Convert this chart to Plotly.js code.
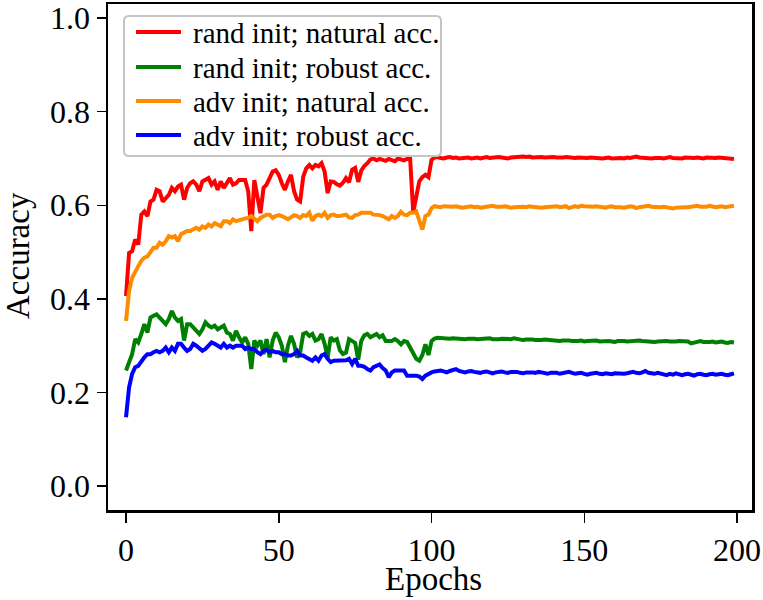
<!DOCTYPE html>
<html>
<head>
<meta charset="utf-8">
<script src="https://cdn.plot.ly/plotly-3.0.1.min.js"></script>
<style>
  html, body { margin: 0; padding: 0; background: #fff; }
  #chart { width: 763px; height: 600px; }
</style>
</head>
<body>
<div id="chart"></div>
<script>
// accuracy per epoch
var randNatural = [
  0.406,0.498,0.502,0.527,0.516,0.580,0.587,0.577,0.608,0.612,
  0.633,0.630,0.608,0.616,0.622,0.637,0.630,0.640,0.644,0.612,
  0.637,0.647,0.651,0.644,0.630,0.651,0.654,0.658,0.644,0.651,
  0.633,0.651,0.637,0.647,0.658,0.644,0.647,0.654,0.654,0.654,
  0.630,0.545,0.654,0.622,0.583,0.637,0.644,0.658,0.672,0.675,
  0.665,0.647,0.633,0.651,0.665,0.630,0.612,0.608,0.661,0.679,
  0.686,0.679,0.686,0.683,0.690,0.672,0.626,0.651,0.650,0.645,
  0.642,0.648,0.658,0.649,0.676,0.680,0.650,0.674,0.684,0.690,
  0.698,0.700,0.696,0.699,0.697,0.695,0.699,0.697,0.694,0.700,
  0.698,0.696,0.699,0.700,0.585,0.622,0.651,0.660,0.665,0.660,
  0.697,0.702,0.703,0.701,0.700,0.702,0.703,0.701,0.702,0.700,
  0.701,0.703,0.702,0.700,0.701,0.702,0.700,0.702,0.703,0.701,
  0.702,0.701,0.703,0.702,0.701,0.700,0.702,0.703,0.704,0.705,
  0.704,0.703,0.704,0.702,0.703,0.704,0.703,0.702,0.703,0.704,
  0.703,0.702,0.701,0.702,0.703,0.702,0.700,0.701,0.702,0.701,
  0.700,0.701,0.702,0.701,0.702,0.701,0.700,0.701,0.702,0.700,
  0.701,0.702,0.701,0.700,0.702,0.701,0.703,0.704,0.702,0.701,
  0.702,0.701,0.700,0.701,0.702,0.701,0.700,0.702,0.703,0.701,
  0.700,0.699,0.700,0.702,0.701,0.700,0.701,0.702,0.701,0.700,
  0.702,0.701,0.700,0.701,0.702,0.701,0.700,0.701,0.700,0.699
];

var randRobust = [
  0.247,0.265,0.282,0.314,0.307,0.325,0.346,0.328,0.360,0.364,
  0.367,0.360,0.353,0.346,0.357,0.374,0.360,0.353,0.357,0.311,
  0.346,0.346,0.339,0.332,0.325,0.335,0.350,0.343,0.339,0.343,
  0.335,0.339,0.343,0.328,0.325,0.311,0.332,0.318,0.307,0.318,
  0.304,0.250,0.311,0.300,0.311,0.282,0.314,0.275,0.311,0.328,
  0.318,0.300,0.265,0.300,0.321,0.304,0.275,0.286,0.325,0.328,
  0.321,0.325,0.311,0.314,0.325,0.304,0.275,0.318,0.311,0.314,
  0.290,0.282,0.285,0.314,0.310,0.306,0.270,0.310,0.322,0.325,
  0.318,0.322,0.325,0.318,0.322,0.310,0.309,0.310,0.314,0.310,
  0.303,0.310,0.308,0.297,0.285,0.272,0.268,0.280,0.303,0.280,
  0.310,0.315,0.317,0.316,0.317,0.316,0.315,0.316,0.315,0.316,
  0.315,0.314,0.315,0.316,0.315,0.314,0.315,0.314,0.315,0.316,
  0.314,0.313,0.314,0.315,0.314,0.313,0.314,0.316,0.314,0.313,
  0.312,0.313,0.314,0.313,0.312,0.311,0.312,0.313,0.312,0.311,
  0.312,0.311,0.310,0.311,0.312,0.311,0.310,0.309,0.310,0.311,
  0.309,0.310,0.311,0.310,0.311,0.309,0.310,0.311,0.310,0.309,
  0.308,0.310,0.311,0.310,0.309,0.310,0.309,0.310,0.311,0.310,
  0.309,0.310,0.309,0.308,0.309,0.310,0.309,0.310,0.309,0.308,
  0.309,0.310,0.309,0.308,0.309,0.305,0.307,0.309,0.310,0.308,
  0.307,0.308,0.309,0.307,0.308,0.309,0.307,0.306,0.308,0.307
];

var advNatural = [
  0.353,0.417,0.445,0.460,0.470,0.481,0.488,0.491,0.502,0.509,
  0.509,0.520,0.516,0.523,0.534,0.531,0.534,0.523,0.538,0.541,
  0.545,0.545,0.548,0.552,0.548,0.555,0.552,0.559,0.555,0.562,
  0.559,0.555,0.566,0.566,0.562,0.570,0.566,0.567,0.570,0.572,
  0.573,0.577,0.570,0.566,0.573,0.577,0.580,0.580,0.573,0.577,
  0.579,0.577,0.573,0.570,0.574,0.579,0.577,0.573,0.579,0.577,
  0.584,0.567,0.577,0.580,0.577,0.584,0.573,0.579,0.580,0.577,
  0.577,0.579,0.580,0.574,0.573,0.579,0.580,0.584,0.584,0.582,
  0.584,0.580,0.580,0.579,0.577,0.574,0.570,0.577,0.573,0.577,
  0.586,0.580,0.579,0.584,0.584,0.587,0.570,0.548,0.577,0.580,
  0.594,0.598,0.597,0.596,0.598,0.597,0.596,0.597,0.598,0.596,
  0.595,0.596,0.597,0.598,0.596,0.597,0.595,0.596,0.597,0.598,
  0.599,0.597,0.596,0.597,0.598,0.596,0.595,0.596,0.597,0.598,
  0.597,0.596,0.598,0.597,0.596,0.597,0.595,0.596,0.597,0.598,
  0.599,0.598,0.596,0.597,0.598,0.594,0.597,0.598,0.596,0.599,
  0.598,0.597,0.596,0.597,0.598,0.597,0.596,0.595,0.597,0.598,
  0.596,0.597,0.596,0.595,0.597,0.598,0.597,0.594,0.596,0.597,
  0.598,0.599,0.597,0.596,0.595,0.596,0.597,0.596,0.595,0.593,
  0.595,0.596,0.597,0.596,0.596,0.597,0.598,0.599,0.597,0.596,
  0.597,0.599,0.597,0.596,0.597,0.598,0.596,0.597,0.598,0.599
];

var advRobust = [
  0.147,0.211,0.240,0.254,0.257,0.268,0.275,0.282,0.282,0.286,
  0.289,0.286,0.289,0.296,0.286,0.296,0.289,0.304,0.304,0.296,
  0.289,0.293,0.304,0.300,0.293,0.289,0.293,0.300,0.307,0.304,
  0.300,0.296,0.304,0.296,0.300,0.296,0.300,0.300,0.300,0.293,
  0.296,0.293,0.293,0.286,0.282,0.289,0.291,0.286,0.289,0.286,
  0.286,0.282,0.282,0.279,0.279,0.282,0.289,0.279,0.279,0.275,
  0.272,0.268,0.275,0.268,0.279,0.282,0.272,0.265,0.268,0.268,
  0.268,0.268,0.269,0.272,0.261,0.272,0.257,0.257,0.255,0.250,
  0.247,0.254,0.257,0.260,0.252,0.247,0.233,0.243,0.247,0.247,
  0.248,0.247,0.236,0.236,0.238,0.236,0.234,0.229,0.236,0.240,
  0.243,0.245,0.247,0.247,0.245,0.243,0.246,0.248,0.250,0.246,
  0.244,0.243,0.245,0.246,0.244,0.243,0.242,0.244,0.245,0.243,
  0.241,0.243,0.244,0.245,0.243,0.242,0.244,0.245,0.244,0.242,
  0.241,0.243,0.244,0.243,0.242,0.244,0.243,0.241,0.240,0.242,
  0.243,0.242,0.240,0.241,0.243,0.244,0.242,0.240,0.241,0.242,
  0.240,0.238,0.240,0.241,0.242,0.240,0.239,0.241,0.240,0.239,
  0.241,0.240,0.239,0.240,0.241,0.243,0.244,0.242,0.241,0.243,
  0.246,0.242,0.241,0.240,0.242,0.241,0.239,0.237,0.240,0.238,
  0.241,0.239,0.237,0.239,0.240,0.238,0.236,0.239,0.240,0.238,
  0.237,0.239,0.240,0.238,0.239,0.240,0.238,0.237,0.239,0.241
];

var seriesNames = ['rand init; natural acc.', 'rand init; robust acc.',
                   'adv init; natural acc.', 'adv init; robust acc.'];
var seriesColors = ['#ff0000', '#008000', '#ff8c00', '#0000ff'];
var xTicks = [0, 50, 100, 150, 200];
var yTicks = [0.0, 0.2, 0.4, 0.6, 0.8, 1.0];

var epochs = randNatural.map(function(v, i){ return i; });
var allSeries = [randNatural, randRobust, advNatural, advRobust];

var data = [];
for (var i = 0; i < allSeries.length; i++) {
  data.push({
    type: 'scatter',
    mode: 'lines',
    name: seriesNames[i],
    x: epochs,
    y: allSeries[i],
    line: { color: seriesColors[i], width: 4 }
  });
}

var serif = 'Liberation Serif, Times New Roman, serif';

// plot area in px: left 108, top 4, width 644, height 506
var PL = 108, PT = 4, PW = 644, PH = 506;
function px2x(p){ return (p - PL) / PW; }
function px2y(p){ return (PT + PH - p) / PH; }

function roundedBox(x0, y0, x1, y1, r){
  var rx = r / PW, ry = r / PH;
  var a = px2x(x0), b = px2x(x1), top = px2y(y0), bot = px2y(y1);
  return 'M ' + (a + rx) + ' ' + top +
         ' L ' + (b - rx) + ' ' + top +
         ' Q ' + b + ' ' + top + ' ' + b + ' ' + (top - ry) +
         ' L ' + b + ' ' + (bot + ry) +
         ' Q ' + b + ' ' + bot + ' ' + (b - rx) + ' ' + bot +
         ' L ' + (a + rx) + ' ' + bot +
         ' Q ' + a + ' ' + bot + ' ' + a + ' ' + (bot + ry) +
         ' L ' + a + ' ' + (top - ry) +
         ' Q ' + a + ' ' + top + ' ' + (a + rx) + ' ' + top + ' Z';
}

// hand-made legend, matplotlib style
var shapes = [{
  type: 'path', xref: 'paper', yref: 'paper',
  path: roundedBox(124, 16, 441, 156, 5),
  fillcolor: 'rgba(255,255,255,0.85)',
  line: { color: '#c4c4c4', width: 2 },
  layer: 'above'
}];
var annotations = [];
var rowY = [32, 67, 101, 135];
for (var k = 0; k < seriesNames.length; k++) {
  shapes.push({
    type: 'line', xref: 'paper', yref: 'paper',
    x0: px2x(136), x1: px2x(181), y0: px2y(rowY[k]), y1: px2y(rowY[k]),
    line: { color: seriesColors[k], width: 4 },
    layer: 'above'
  });
  annotations.push({
    xref: 'paper', yref: 'paper',
    x: px2x(191), y: px2y(rowY[k] + 1),
    xanchor: 'left', yanchor: 'middle',
    text: seriesNames[k], showarrow: false,
    font: { family: serif, size: 29, color: '#000' }
  });
}

// axis titles
annotations.push({
  xref: 'paper', yref: 'paper', x: px2x(433), y: px2y(579),
  xanchor: 'center', yanchor: 'middle', showarrow: false,
  text: 'Epochs', font: { family: serif, size: 33, color: '#000' }
});
annotations.push({
  xref: 'paper', yref: 'paper', x: px2x(18), y: px2y(256),
  xanchor: 'center', yanchor: 'middle', showarrow: false, textangle: -90,
  text: 'Accuracy', font: { family: serif, size: 33, color: '#000' }
});

var layout = {
  width: 763,
  height: 600,
  margin: { l: PL, r: 763 - PL - PW, t: PT, b: 600 - PT - PH },
  paper_bgcolor: '#ffffff',
  plot_bgcolor: '#ffffff',
  font: { family: serif, color: '#000000' },
  showlegend: false,
  shapes: shapes,
  annotations: annotations,
  xaxis: {
    range: [-5.9, 204.9],
    tickvals: xTicks,
    ticktext: xTicks.map(String),
    ticks: 'outside', ticklen: 10, tickwidth: 1.5, tickcolor: '#000',
    showline: true, linecolor: '#000', linewidth: 2.5, mirror: true,
    showgrid: false, zeroline: false,
    ticklabeloverflow: 'allow',
    tickfont: { family: serif, size: 32, color: '#000' }
  },
  yaxis: {
    range: [-0.051, 1.03],
    tickvals: yTicks,
    ticktext: yTicks.map(function(v){ return v.toFixed(1); }),
    ticks: 'outside', ticklen: 9, tickwidth: 1.5, tickcolor: '#000',
    showline: true, linecolor: '#000', linewidth: 2.5, mirror: true,
    showgrid: false, zeroline: false,
    ticklabeloverflow: 'allow',
    tickfont: { family: serif, size: 32, color: '#000' }
  }
};

Plotly.newPlot(document.getElementById('chart'), data, layout, { displayModeBar: false, staticPlot: true });
</script>
</body>
</html>
